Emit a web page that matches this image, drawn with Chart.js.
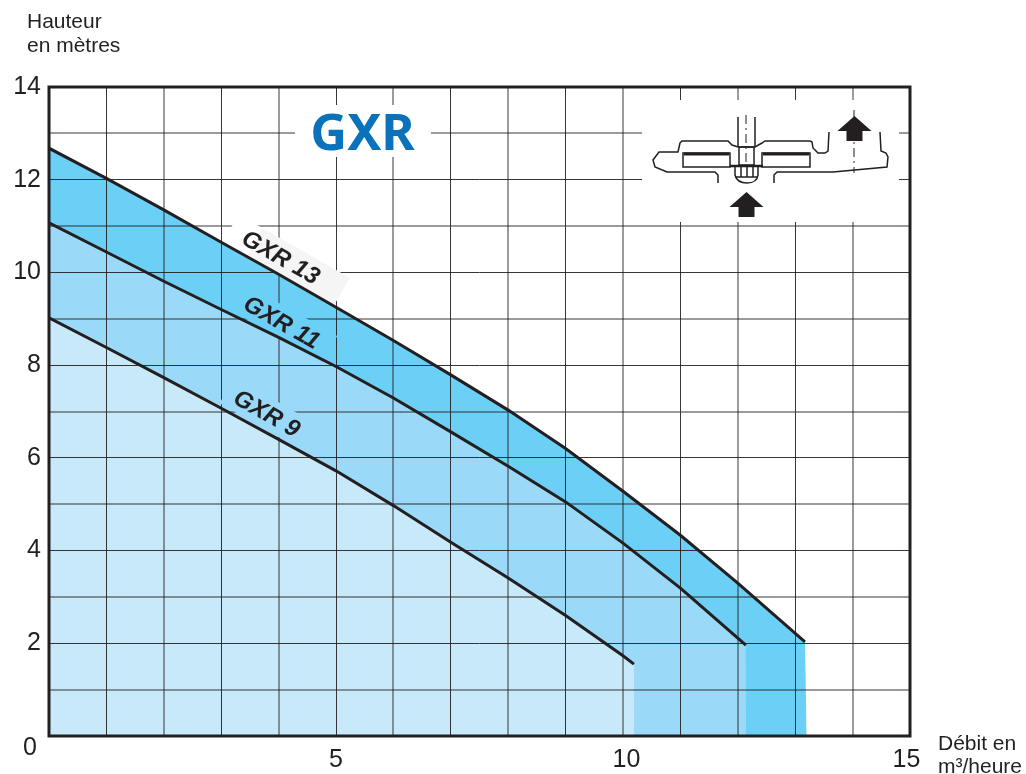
<!DOCTYPE html>
<html>
<head>
<meta charset="utf-8">
<title>GXR</title>
<script src="https://cdn.jsdelivr.net/npm/chart.js@4"></script>
<style>
  html, body { margin: 0; background: #fff; }
  canvas { display: block; }
</style>
</head>
<body>
<canvas id="courbes" width="1026" height="774"></canvas>
<script>
// debit (m3/h) -> hauteur (m), last point of each list is the drop to the axis
const gxr13Debit = [0, 1, 2, 3, 4, 5, 6, 7, 8, 9, 10, 11, 12, 13.17, 13.2]
const gxr13Hauteur = [12.68, 12.03, 11.35, 10.65, 9.96, 9.25, 8.53, 7.79, 7.03, 6.2, 5.28, 4.33, 3.3, 2.03, 0]
const gxr11Debit = [0, 1, 2, 3, 4, 5, 6, 7, 8, 9, 10, 11, 12.14, 12.12]
const gxr11Hauteur = [11.07, 10.44, 9.81, 9.2, 8.6, 7.97, 7.29, 6.56, 5.82, 5.05, 4.16, 3.19, 1.96, 0]
const gxr9Debit = [0, 1, 2, 3, 4, 5, 6, 7, 8, 9, 10, 10.19, 10.18]
const gxr9Hauteur = [9.02, 8.38, 7.73, 7.07, 6.4, 5.72, 4.97, 4.18, 3.41, 2.6, 1.73, 1.55, 0]

// the printed labels sit a little off their ticks, the no-break spaces nudge them
const xLabels = { 5: '5', 10: '\u00a010', 15: '15\u00a0' }
const yLabels = { 2: '2', 4: '4', 6: '6', 8: '8', 10: '10', 12: '12', 14: '14' }

const INK = '#231f20'
const SANS = '"Liberation Sans", Arial, sans-serif'

function points(xs, ys) {
  return xs.map((x, i) => ({ x, y: ys[i] }))
}

function curve(label, xs, ys, color) {
  const last = xs.length - 2
  return {
    label,
    data: points(xs, ys),
    borderColor: INK,
    borderWidth: 3,
    backgroundColor: color,
    fill: 'origin',
    pointRadius: 0,
    tension: 0,
    segment: {
      // no stroke on the vertical drop
      borderColor: (ctx) => (ctx.p0DataIndex === last ? 'transparent' : INK),
    },
  }
}

function text(ctx, str, x, y, font, color, align) {
  ctx.font = font
  ctx.fillStyle = color || INK
  ctx.textAlign = align || 'left'
  ctx.textBaseline = 'alphabetic'
  ctx.fillText(str, x, y)
}

const TILT = 29.6 * Math.PI / 180

function tilted(ctx, x, y, draw) {
  ctx.save()
  ctx.translate(x, y)
  ctx.rotate(TILT)
  draw()
  ctx.restore()
}

function curveLabel(ctx, str, x, y) {
  tilted(ctx, x, y, () => {
    text(ctx, str, 0, 8, 'italic bold 24px ' + SANS, INK, 'center')
  })
}

function arrow(ctx, x, tipY) {
  ctx.fillStyle = INK
  ctx.beginPath()
  ctx.moveTo(x, tipY)
  ctx.lineTo(x + 17, tipY + 15)
  ctx.lineTo(x + 8, tipY + 15)
  ctx.lineTo(x + 8, tipY + 25)
  ctx.lineTo(x - 8, tipY + 25)
  ctx.lineTo(x - 8, tipY + 15)
  ctx.lineTo(x - 17, tipY + 15)
  ctx.closePath()
  ctx.fill()
}

function path(ctx, pts) {
  ctx.beginPath()
  pts.forEach((p, i) => (i ? ctx.lineTo(p[0], p[1]) : ctx.moveTo(p[0], p[1])))
  ctx.stroke()
}

function pumpSketch(ctx) {
  ctx.strokeStyle = INK
  ctx.lineWidth = 1.5
  // body outline
  path(ctx, [[718, 183], [718, 175], [715, 172], [667, 172], [655, 167], [653, 160], [659, 152], [678, 152], [680, 143], [682, 141], [728, 141], [732, 145], [738, 147], [755, 147], [762, 143], [765, 141], [810, 141], [812, 142], [813, 148], [818, 153], [825, 153], [828, 151], [829, 132]])
  path(ctx, [[774, 183], [774, 175], [777, 172], [833, 172], [887, 167], [888, 157], [886, 153], [881, 151], [880, 132]])
  // inner plates
  ctx.strokeRect(683, 153, 47, 14)
  ctx.strokeRect(762, 153, 48, 14)
  ctx.lineWidth = 3
  path(ctx, [[684, 154], [729, 154]])
  path(ctx, [[763, 154], [809, 154]])
  ctx.lineWidth = 1.5
  // shaft, nut and strainer
  path(ctx, [[738, 117], [738, 147]])
  path(ctx, [[755, 117], [755, 147]])
  ctx.strokeRect(739, 147, 15, 18)
  ctx.lineWidth = 2.5
  path(ctx, [[730, 166], [763, 166]])
  ctx.lineWidth = 1.5
  ctx.beginPath()
  ctx.moveTo(735, 167)
  ctx.lineTo(735, 175)
  ctx.quadraticCurveTo(737, 183, 747, 183)
  ctx.quadraticCurveTo(757, 183, 758, 175)
  ctx.lineTo(758, 167)
  ctx.stroke()
  path(ctx, [[741, 167], [741, 177]])
  path(ctx, [[747, 167], [747, 177]])
  path(ctx, [[753, 167], [753, 177]])
  path(ctx, [[735, 177], [758, 177]])
  // dash-dot axes
  ctx.lineWidth = 1
  ctx.setLineDash([9, 4, 2, 4])
  path(ctx, [[746, 115], [746, 165]])
  path(ctx, [[854, 110], [854, 173]])
  ctx.setLineDash([])
  arrow(ctx, 746.5, 192)
  arrow(ctx, 854.5, 116)
}

const decor = {
  id: 'decor',
  // holes in the grid, under the curves
  beforeDatasetsDraw(chart) {
    const { ctx } = chart
    ctx.save()
    ctx.fillStyle = '#fff'
    ctx.fillRect(295, 105, 136, 52)
    ctx.fillRect(642, 100, 257, 122)

    tilted(ctx, 281, 257, () => {
      ctx.fillStyle = '#fff'
      ctx.fillRect(-58, -16, 30, 32)
      ctx.fillStyle = '#f5f5f5'
      ctx.fillRect(-30, -16, 100, 32)
    })
    tilted(ctx, 282, 322, () => {
      ctx.fillStyle = '#6bcff6'
      ctx.fillRect(-55, -15, 110, 30)
    })
    tilted(ctx, 267, 413, () => {
      ctx.fillStyle = '#9bd9f8'
      ctx.fillRect(-46, -15, 92, 30)
    })
    ctx.restore()
  },
  afterDatasetsDraw(chart) {
    const { ctx, chartArea: a } = chart
    ctx.save()

    text(ctx, 'GXR', 362.5, 150, 'bold 51px "Noto Sans", sans-serif', '#0a72ba', 'center')
    pumpSketch(ctx)

    curveLabel(ctx, 'GXR 13', 281, 257)
    curveLabel(ctx, 'GXR 11', 282, 322)
    curveLabel(ctx, 'GXR 9', 267, 413)

    // heavy frame
    ctx.strokeStyle = INK
    ctx.lineWidth = 3
    ctx.strokeRect(a.left, a.top, a.right - a.left, a.bottom - a.top)

    const font = '21px ' + SANS
    text(ctx, 'Hauteur', 27, 28, font)
    text(ctx, 'en mètres', 27, 52, font)
    text(ctx, 'Débit en', 938, 750, font)
    text(ctx, 'm³/heure', 938, 773, font)
    text(ctx, '0', 30, 755, '25px ' + SANS, INK, 'center')
    ctx.restore()
  },
}

new Chart(document.getElementById('courbes'), {
  type: 'line',
  data: {
    datasets: [
      curve('GXR 9', gxr9Debit, gxr9Hauteur, '#c7e9fa'),
      curve('GXR 11', gxr11Debit, gxr11Hauteur, '#9bd9f8'),
      curve('GXR 13', gxr13Debit, gxr13Hauteur, '#6bcff6'),
    ],
  },
  options: {
    responsive: false,
    animation: false,
    layout: { padding: { top: 87, right: 116, left: 0, bottom: 0 } },
    plugins: {
      legend: { display: false },
      tooltip: { enabled: false },
      filler: { drawTime: 'beforeDraw' },
    },
    scales: {
      x: {
        type: 'linear',
        min: 0,
        max: 15,
        afterFit: (scale) => { scale.height = 38 },
        grid: {
          // the print alternates soft and sharp rules
          color: (c) => (c.index % 2 ? 'rgba(35,31,32,0.9)' : 'rgba(35,31,32,0.45)'),
          lineWidth: (c) => (c.index % 2 ? 1 : 2),
          drawTicks: false,
        },
        border: { display: false },
        ticks: {
          stepSize: 1,
          autoSkip: false,
          maxRotation: 0,
          padding: 9,
          color: INK,
          font: { family: SANS, size: 25 },
          callback: (value) => xLabels[value] || '',
        },
      },
      y: {
        min: 0,
        max: 14,
        afterFit: (scale) => { scale.width = 49 },
        grid: {
          color: (c) => (c.index % 2 ? 'rgba(35,31,32,0.45)' : 'rgba(35,31,32,0.9)'),
          lineWidth: (c) => (c.index % 2 ? 2 : 1),
          drawTicks: false,
        },
        border: { display: false },
        ticks: {
          stepSize: 1,
          autoSkip: false,
          padding: 8,
          color: INK,
          font: { family: SANS, size: 25 },
          callback: (value) => yLabels[value] || '',
        },
      },
    },
  },
  plugins: [decor],
})
</script>
</body>
</html>
